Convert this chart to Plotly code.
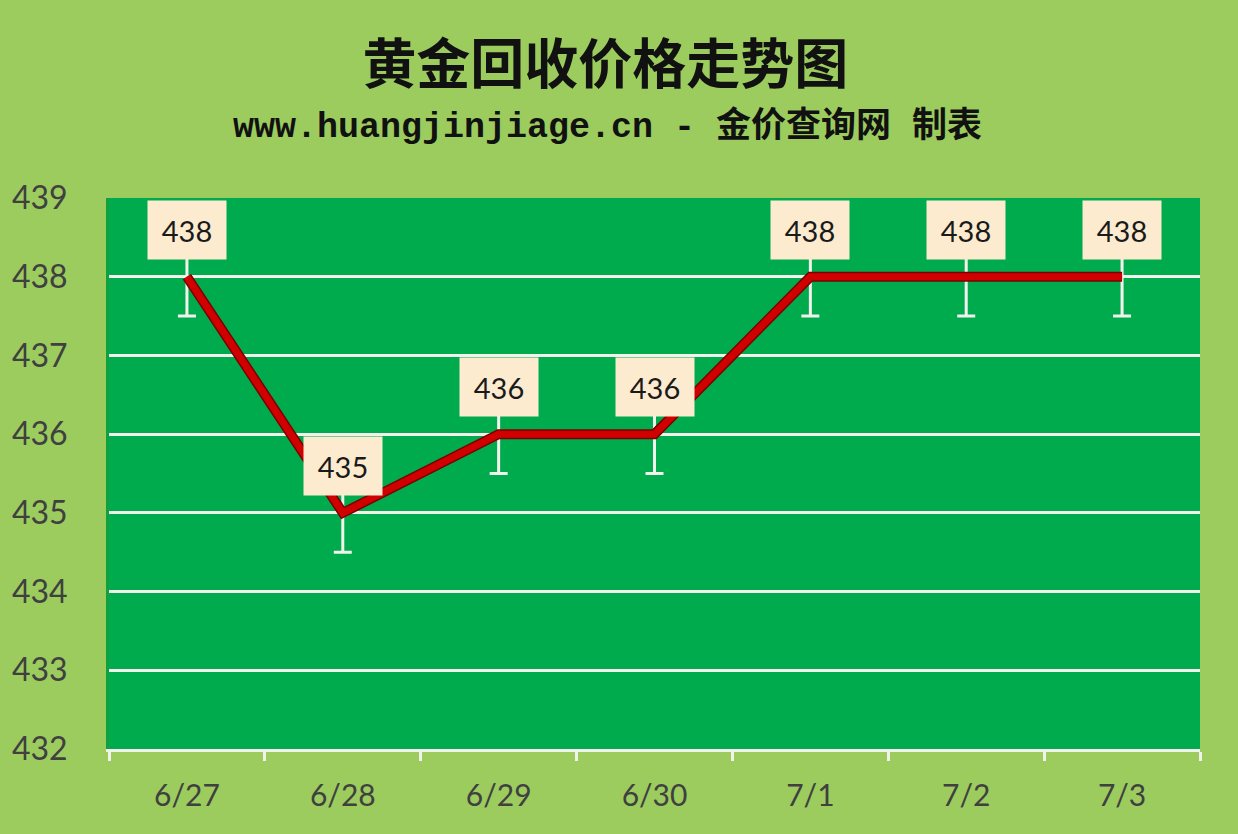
import plotly.graph_objects as go

dates = ["6/27", "6/28", "6/29", "6/30", "7/1", "7/2", "7/3"]
prices = [438, 435, 436, 436, 438, 438, 438]
err = [0.5, 0.5, 0.5, 0.5, 0.5, 0.5, 0.5]
y_ticks = [432, 433, 434, 435, 436, 437, 438, 439]

title = "黄金回收价格走势图"
subtitle = "www.huangjinjiage.cn - 金价查询网 制表"

fig = go.Figure()

# error bars (white, under the line)
fig.add_trace(go.Scatter(
    x=dates, y=prices, mode="markers",
    marker=dict(size=1, color="rgba(0,0,0,0)"),
    error_y=dict(type="data", array=err, symmetric=True,
                 color="#F2F2EC", thickness=3, width=9),
    hoverinfo="skip", showlegend=False,
))

# dark edge under the red line
fig.add_trace(go.Scatter(
    x=dates, y=prices, mode="lines",
    line=dict(color="#7A0000", width=10),
    hoverinfo="skip", showlegend=False,
))
fig.add_trace(go.Scatter(
    x=dates, y=prices, mode="lines",
    line=dict(color="#D00000", width=7),
    showlegend=False,
))

for d, p in zip(dates, prices):
    fig.add_annotation(
        x=d, y=p, text=str(p), showarrow=False, yshift=47,
        font=dict(family="Lato, Noto Sans", size=29, color="#1A1A1A"),
        bgcolor="#FDEBCF", width=76, height=56,
    )

fig.add_annotation(
    text="<b>" + subtitle + "</b>", xref="paper", yref="paper",
    x=0.457, y=1.129, xanchor="center", yanchor="middle", showarrow=False,
    font=dict(family="Liberation Mono, Noto Sans CJK SC", size=35, color="#111111"),
)

fig.update_layout(
    width=1238, height=834,
    paper_bgcolor="#9CCC5E", plot_bgcolor="#00AB4E",
    margin=dict(l=104, r=38, t=198, b=85),
    title=dict(
        text=title, x=0.489, xanchor="center",
        yref="container", y=(834 - 65) / 834, yanchor="middle",
        font=dict(family="Noto Sans CJK SC", size=54, color="#111111", weight="bold"),
    ),
    xaxis=dict(
        type="category", range=[-0.5, 6.5],
        showgrid=False, ticks="outside", tickson="boundaries",
        ticklen=9, tickwidth=3, tickcolor="#F2F2EC",
        showline=True, linecolor="#F2F2EC", linewidth=3,
        tickfont=dict(family="Lato, Noto Sans", size=30, color="#404040"),
        ticklabelstandoff=18,
    ),
    yaxis=dict(
        range=[432, 439], tickvals=y_ticks,
        showgrid=True, gridcolor="#F2F2EC", gridwidth=3,
        zeroline=False, showline=True, linecolor="#10A040", linewidth=3,
        tickfont=dict(family="Lato, Noto Sans", size=32, color="#404040"),
        ticklabelstandoff=32,
    ),
)

fig.write_html("out.html", config={"displayModeBar": False},
               post_script="document.body.style.margin='0';")
